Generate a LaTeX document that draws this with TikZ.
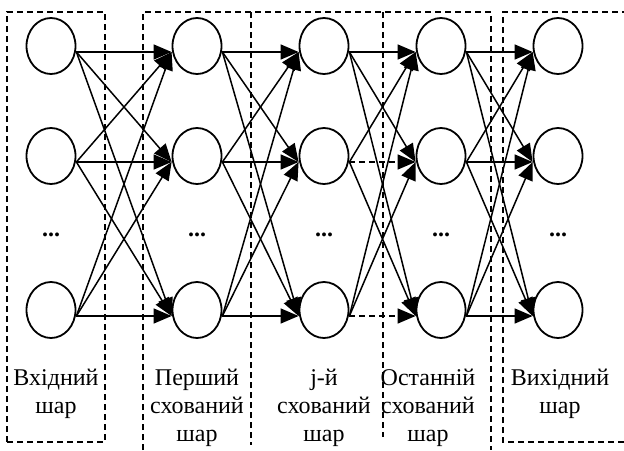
\documentclass[tikz,border=0pt]{standalone}
\usepackage{fontspec}
\setmainfont{Liberation Serif}
\usetikzlibrary{arrows.meta,shapes.geometric}
\begin{document}
\begin{tikzpicture}[x=1pt,y=-1pt,
  neuron/.style={draw, ellipse, line width=1.8pt, minimum width=49pt, minimum height=56pt, inner sep=0pt},
  conn/.style={line width=1.5pt, -{Triangle[length=18pt,width=15pt]}},
  dconn/.style={conn, dash pattern=on 6pt off 4pt},
  frame/.style={line width=1.5pt, dash pattern=on 6pt off 4pt},
  lbl/.style={align=center, inner sep=0pt, font=\fontsize{24}{28}\selectfont},
  dots/.style={inner sep=0pt, font=\fontsize{24}{28}\selectfont\bfseries}]
\useasboundingbox (0,0) rectangle (624,450);
% frames
\draw[frame] (7,442) -- (7,12) -- (105,12) -- (105,442) -- cycle;
\draw[frame] (143,450) -- (143,12) -- (491,12) -- (491,450);
\draw[frame] (251,12) -- (251,445);
\draw[frame] (383,12) -- (383,437);
\draw[frame] (624,442) -- (503,442) -- (503,12) -- (624,12);
% neurons
\foreach \l/\x in {1/51,2/197,3/324,4/441,5/558}{
  \foreach \r/\y in {1/46,2/156,3/310}{
    \node[neuron] (n\l\r) at (\x,\y) {};
    \coordinate (o\l\r) at ([yshift=-6pt]n\l\r.east);
    \coordinate (i\l\r) at ([yshift=-6pt]n\l\r.west);
  }
  \node[dots] (d\l) at (\x,235) {...};
}
% connections
\foreach \a/\b in {1/2,2/3,3/4,4/5}{
  \foreach \r in {1,2,3}{
    \foreach \s in {1,2,3}{
      \ifnum\r=\s\relax
        \ifnum\a=3\relax
          \ifnum\r>1\relax
            \draw[dconn] (o\a\r) -- (i\b\s);
          \else
            \draw[conn] (o\a\r) -- (i\b\s);
          \fi
        \else
          \draw[conn] (o\a\r) -- (i\b\s);
        \fi
      \else
        \draw[conn] (o\a\r) -- (i\b\s);
      \fi
    }
  }
}
% labels
\node[lbl] (t1) at (56,394) {Вхідний\\шар};
\node[lbl] (t2) at (197,408) {Перший\\схований\\шар};
\node[lbl] (t3) at (324,408) {j-й\\схований\\шар};
\node[lbl] (t4) at (428,408) {Останній\\схований\\шар};
\node[lbl] (t5) at (560,394) {Вихідний\\шар};
\end{tikzpicture}
\end{document}
